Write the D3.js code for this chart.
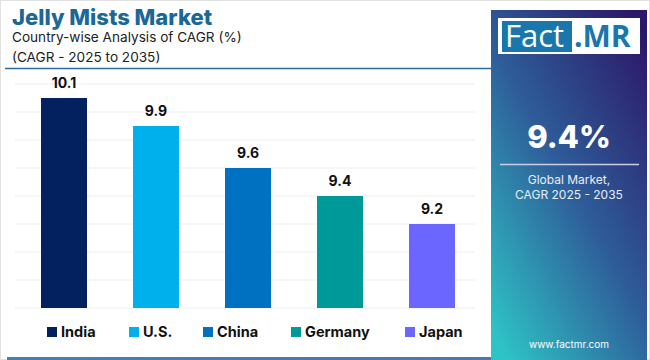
<!DOCTYPE html>
<html><head><meta charset="utf-8">
<script src="https://cdn.jsdelivr.net/npm/d3@7"></script>
<style>body{margin:0;background:#fff;}svg{display:block;font-family:Inter,"Open Sans",sans-serif;}</style>
</head><body>
<script>
const categories = ["India","U.S.","China","Germany","Japan"];
const values = [10.1, 9.9, 9.6, 9.4, 9.2];
const colors = ["#03215f","#00b0ec","#0070c0","#00999a","#6a66ff"];
const yTicks = [8.6, 8.8, 9.0, 9.2, 9.4, 9.6, 9.8, 10.0, 10.2];
const globalCagr = "9.4%";

const W=650,H=360;
const svg=d3.select("body").append("svg").attr("width",W).attr("height",H);
svg.append("rect").attr("x",0.5).attr("y",0.5).attr("width",W-1).attr("height",H-1).attr("fill","#fff").attr("stroke","#e2e2e2");

// title
svg.append("text").attr("x",12).attr("y",25).attr("font-size",22).attr("font-weight",800).attr("fill","#1b6797").text("Jelly Mists Market");
svg.append("text").attr("x",12).attr("y",42).attr("font-size",13.6).attr("fill","#222").text("Country-wise Analysis of CAGR (%)");
svg.append("text").attr("x",12).attr("y",62).attr("font-size",13.6).attr("fill","#222").text("(CAGR - 2025 to 2035)");
svg.append("line").attr("x1",5).attr("x2",491).attr("y1",68.5).attr("y2",68.5).attr("stroke","#2b6c9c").attr("stroke-width",1.5);

// scales
const x=d3.scaleBand().domain(categories).range([18,478]).paddingInner(0.5).paddingOuter(0.25);
const y=d3.scaleLinear().domain([8.6,10.2]).range([308,84]);

const grid=svg.append("g");
grid.selectAll("line").data(yTicks).join("line")
 .attr("x1",15).attr("x2",475).attr("y1",d=>y(d)).attr("y2",d=>y(d))
 .attr("stroke","#eeeeee").attr("stroke-width",1);

svg.append("g").selectAll("rect").data(values).join("rect")
 .attr("x",(d,i)=>x(categories[i])).attr("width",x.bandwidth())
 .attr("y",d=>y(d)).attr("height",d=>y(8.6)-y(d)).attr("fill",(d,i)=>colors[i]);

svg.append("g").selectAll("text").data(values).join("text")
 .attr("x",(d,i)=>x(categories[i])+x.bandwidth()/2).attr("y",d=>y(d)-10)
 .attr("text-anchor","middle").attr("font-size",14).attr("font-weight",700).attr("fill","#111")
 .text(d=>d.toFixed(1));

// legend
const legX=[47,129,203,291,405];
const leg=svg.append("g");
categories.forEach((c,i)=>{
  leg.append("rect").attr("x",legX[i]).attr("y",327).attr("width",10).attr("height",10).attr("fill",colors[i]);
  leg.append("text").attr("x",legX[i]+14).attr("y",337).attr("font-size",14.5).attr("font-weight",700).attr("fill","#111").text(c);
});

// bottom line
const defs=svg.append("defs");
const bl=defs.append("linearGradient").attr("id","bl").attr("x1","0").attr("x2","1");
bl.append("stop").attr("offset","0").attr("stop-color","#3f82b4");
bl.append("stop").attr("offset","1").attr("stop-color","#4a78b0");
svg.append("rect").attr("x",7).attr("y",357).attr("width",484).attr("height",3).attr("fill","url(#bl)");

// right panel
const pg=defs.append("linearGradient").attr("id","pg").attr("x1","0.9").attr("y1","0").attr("x2","0.1").attr("y2","1");
pg.append("stop").attr("offset","0").attr("stop-color","#2c1868");
pg.append("stop").attr("offset","0.5").attr("stop-color","#2e5d99");
pg.append("stop").attr("offset","1").attr("stop-color","#2ec3c6");
svg.append("rect").attr("x",491).attr("y",10).attr("width",156).attr("height",350).attr("fill","url(#pg)");

svg.append("rect").attr("x",498).attr("y",18).attr("width",142).attr("height",36).attr("fill","#fff");
svg.append("rect").attr("x",502).attr("y",21).attr("width",70).attr("height",31).attr("fill","#1a77ad");
svg.append("text").attr("x",505).attr("y",47).attr("font-size",31).attr("fill","#fff").attr("font-family","'Open Sans',sans-serif").text("Fact");
svg.append("text").attr("x",574).attr("y",47).attr("font-size",30).attr("font-weight",700).attr("fill","#1a77ad").attr("font-family","'Open Sans',sans-serif").text(".MR");

svg.append("text").attr("x",569).attr("y",148).attr("text-anchor","middle").attr("font-size",31).attr("font-weight",800).attr("fill","#fff").text(globalCagr);
svg.append("line").attr("x1",500).attr("x2",639).attr("y1",164.5).attr("y2",164.5).attr("stroke","#c9cde6").attr("stroke-width",1.5);
svg.append("text").attr("x",569).attr("y",184).attr("text-anchor","middle").attr("font-size",12).attr("fill","#e8eef8").text("Global Market,");
svg.append("text").attr("x",569).attr("y",199).attr("text-anchor","middle").attr("font-size",12).attr("fill","#e8eef8").text("CAGR 2025 - 2035");
svg.append("text").attr("x",569).attr("y",348).attr("text-anchor","middle").attr("font-size",10).attr("fill","#fff").text("www.factmr.com");
</script>
</body></html>
